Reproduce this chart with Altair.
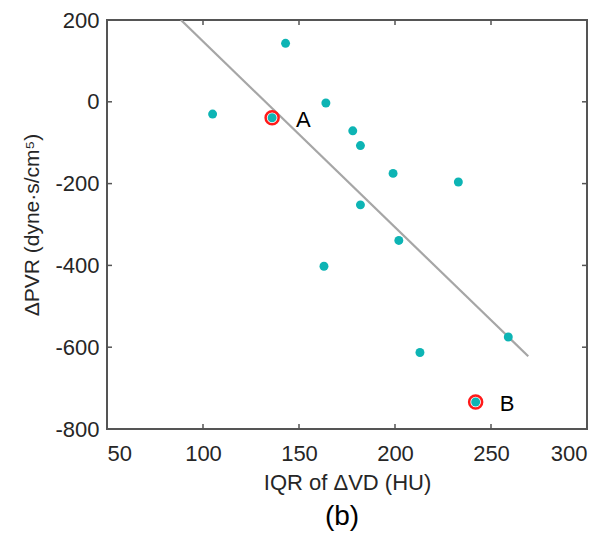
import altair as alt
import pandas as pd

# data
iqr_dvd = [105, 136, 143, 164, 178, 182, 199, 233, 182, 202, 163, 213, 259, 242]
d_pvr = [-30, -39, 143, -3, -71, -107, -175, -196, -252, -339, -402, -613, -575, -734]

marked_x = [136, 242]
marked_y = [-39, -734]
marked_lab = ["A", "B"]

fit_x = [88.5, 269.4]
fit_y = [200, -622]

x_ticks = [50, 100, 150, 200, 250, 300]
y_ticks = [-800, -600, -400, -200, 0, 200]
inner_x_ticks = [100, 150, 200, 250]
inner_y_ticks = [-600, -400, -200, 0]

W, H = 480, 409
FONT = "Liberation Sans"
TXT = "#262626"
AX = "#555555"

pts = pd.DataFrame({"x": iqr_dvd, "y": d_pvr})
mk = pd.DataFrame({"x": marked_x, "y": marked_y, "lab": marked_lab})
fit = pd.DataFrame({"x": fit_x, "y": fit_y})
xt = pd.DataFrame({"x": inner_x_ticks})
yt = pd.DataFrame({"y": inner_y_ticks})

xs = alt.Scale(domain=[50, 300], nice=False, zero=False)
ys = alt.Scale(domain=[-800, 200], nice=False, zero=False)

xaxis = alt.Axis(values=x_ticks, title="IQR of ΔVD (HU)", ticks=False, grid=False,
                 domain=False, labelPadding=14, titlePadding=8,
                 labelExpr="'' + datum.value",
                 labelFont=FONT, titleFont=FONT, labelFontSize=22, titleFontSize=22,
                 labelColor=TXT, titleColor=TXT, titleFontWeight="normal")
yaxis = alt.Axis(values=y_ticks, title="ΔPVR (dyne·s/cm⁵)", ticks=False, grid=False,
                 domain=False, labelPadding=8, titlePadding=12,
                 labelExpr="'' + datum.value",
                 labelFont=FONT, titleFont=FONT, labelFontSize=22, titleFontSize=21,
                 labelColor=TXT, titleColor=TXT, titleFontWeight="normal")

line = alt.Chart(fit).mark_line(color="#a6a6a6", strokeWidth=2.2, clip=True).encode(
    x=alt.X("x:Q", scale=xs, axis=xaxis),
    y=alt.Y("y:Q", scale=ys, axis=yaxis),
)

rings = alt.Chart(mk).mark_point(shape="circle", filled=False, fill="white", fillOpacity=1,
                                 stroke="#ff1a1a", strokeWidth=2.5, size=170, opacity=1).encode(
    x=alt.X("x:Q", scale=xs), y=alt.Y("y:Q", scale=ys))

dots = alt.Chart(pts).mark_circle(color="#0db4b4", size=80, opacity=1).encode(
    x=alt.X("x:Q", scale=xs), y=alt.Y("y:Q", scale=ys))

labels = alt.Chart(mk).mark_text(align="left", baseline="middle", dx=24, dy=2,
                                 font=FONT, fontSize=22, color="black").encode(
    x=alt.X("x:Q", scale=xs), y=alt.Y("y:Q", scale=ys), text="lab:N")

tick_b = alt.Chart(xt).mark_rule(color=AX, strokeWidth=1.5).encode(
    x=alt.X("x:Q", scale=xs), y=alt.value(H), y2=alt.value(H - 5))
tick_t = alt.Chart(xt).mark_rule(color=AX, strokeWidth=1.5).encode(
    x=alt.X("x:Q", scale=xs), y=alt.value(0), y2=alt.value(5))
tick_l = alt.Chart(yt).mark_rule(color=AX, strokeWidth=1.5).encode(
    y=alt.Y("y:Q", scale=ys), x=alt.value(0), x2=alt.value(5))
tick_r = alt.Chart(yt).mark_rule(color=AX, strokeWidth=1.5).encode(
    y=alt.Y("y:Q", scale=ys), x=alt.value(W), x2=alt.value(W - 5))

panel = alt.Chart(pd.DataFrame({"t": ["(b)"]})).mark_text(
    font=FONT, fontSize=28, color="black", align="center", baseline="middle").encode(
    x=alt.value(235), y=alt.value(497), text="t:N")

chart = alt.layer(line, tick_b, tick_t, tick_l, tick_r, rings, dots, labels, panel).properties(
    width=W, height=H,
    autosize=alt.AutoSizeParams(type="none"),
    padding={"left": 99, "top": 12, "right": 10, "bottom": 106},
    background="white",
).configure_view(stroke=AX, strokeWidth=2)

chart.save("out.html", embed_options={"renderer": "svg", "actions": False})
